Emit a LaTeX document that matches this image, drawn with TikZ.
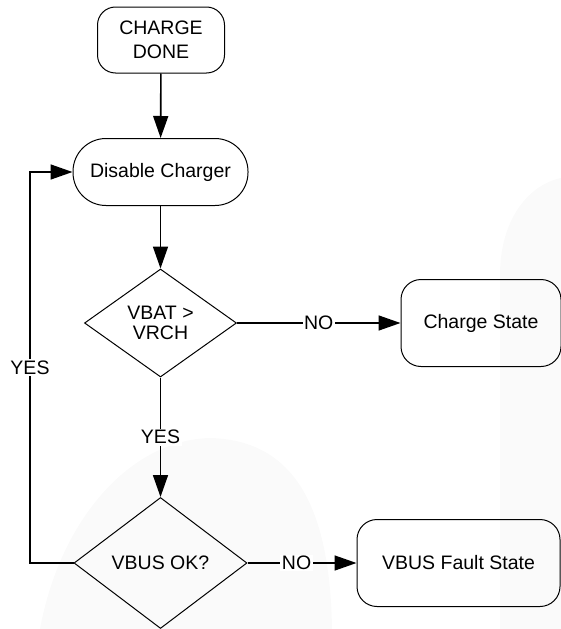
\documentclass[tikz,border=0pt]{standalone}
\usepackage{fontspec}
\setmainfont{Liberation Sans}
\usetikzlibrary{shapes.geometric,arrows.meta}
\begin{document}
\begin{tikzpicture}[x=1pt,y=-1pt,
  every node/.style={font=\fontsize{19.5}{24}\selectfont, align=center},
  box/.style={draw, line width=1pt, rounded corners=18pt, inner sep=0pt},
  dec/.style={draw, diamond, line width=1pt, inner sep=0pt},
  conn/.style={line width=1.6pt},
  arr/.style={conn, -{Triangle[length=22pt,width=15pt]}},
  lbl/.style={fill=white, inner sep=1.5pt},
  wm/.style={fill=gray!4}]
\path[use as bounding box] (0,0) rectangle (561,629);
% faint background watermark
\fill[wm] (500,629) -- (500,275) .. controls (500,220) and (528,185) .. (561,178) -- (561,629) -- cycle;
\fill[wm] (40,629) .. controls (60,520) and (130,440) .. (210,438) .. controls (290,440) and (330,500) .. (332,629) -- cycle;
% nodes
\node[box, minimum width=127pt, minimum height=66pt] (done) at (161,40) {CHARGE\\DONE};
\node[box, rounded corners=33pt, minimum width=175pt, minimum height=67pt] (dis) at (160.5,172) {Disable Charger};
\node[dec, minimum width=152pt, minimum height=108pt, font=\fontsize{19.5}{19.5}\selectfont] (vbat) at (160.5,323) {VBAT >\\VRCH};
\node[box, rounded corners=20pt, minimum width=160pt, minimum height=87pt] (chg) at (481,323) {Charge State};
\node[dec, minimum width=173pt, minimum height=131pt] (vbus) at (160.5,563) {VBUS OK?};
\node[box, rounded corners=20pt, minimum width=203pt, minimum height=87pt] (fault) at (458.5,563) {VBUS Fault State};
\coordinate (lc) at (30,0);
% connectors
\draw[arr] (done) -- (dis);
\draw[arr] (dis) -- (vbat);
\draw[arr] (vbat) -- node[lbl]{NO} (chg);
\draw[arr] (vbat) -- node[lbl]{YES} (vbus);
\draw[arr] (vbus) -- node[lbl, pos=0.45]{NO} (fault);
\draw[arr] (vbus.west) -- (vbus.west -| lc) -- node[lbl]{YES} (dis.west -| lc) -- (dis.west);
\end{tikzpicture}
\end{document}
